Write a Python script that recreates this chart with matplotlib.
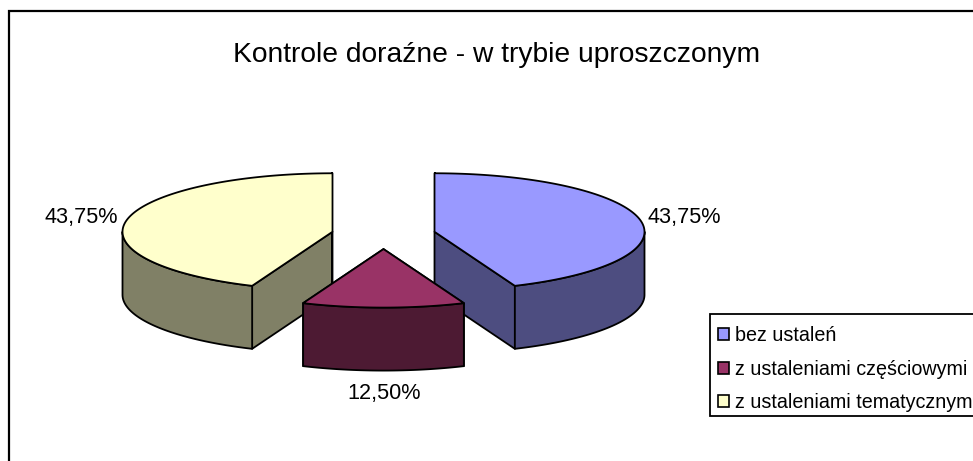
import numpy as np
import matplotlib
matplotlib.use("Agg")
import matplotlib.pyplot as plt
from matplotlib.patches import Polygon, Patch, Rectangle

plt.rcParams['font.family'] = ['Liberation Sans', 'DejaVu Sans']

title = "Kontrole doraźne - w trybie uproszczonym"
categories = ["bez ustaleń", "z ustaleniami częściowymi", "z ustaleniami tematycznym"]
shares = [43.75, 12.50, 43.75]
top_colors = ["#9999FF", "#993366", "#FFFFCC"]
side_colors = ["#4D4D80", "#4D1A33", "#808066"]
draw_order = [2, 0, 1]

# geometry of the projected pie, in figure pixels
CX, CY = 383.5, 234.6
RX, RY = 210.0, 58.5
DEPTH = 63.0
EXPLODE = 52.0
LW = 1.3

fig = plt.figure(figsize=(9.73, 4.61), dpi=100, facecolor="white")
ax = fig.add_axes([0, 0, 1, 1])
ax.set_xlim(0, 973)
ax.set_ylim(461, 0)
ax.axis("off")


def pt(ox, oy, deg, r=1.0):
    t = np.radians(deg)
    return np.column_stack([ox + r * RX * np.sin(t), oy - r * RY * np.cos(t)])


# chart frame (runs off the right and bottom of the picture)
ax.add_patch(Rectangle((9, 11.5), 1000, 500, fc="white", ec="black", lw=1.6, zorder=0))

edges = np.concatenate([[0], np.cumsum(shares)]) / sum(shares) * 360
for z, i in enumerate(draw_order):
    a0, a1 = edges[i], edges[i + 1]
    mid = np.radians((a0 + a1) / 2)
    ox = CX + EXPLODE * np.sin(mid)
    oy = CY - EXPLODE * (RY / RX) * np.cos(mid)
    base = 2 + z * 3
    style = dict(ec="black", lw=LW, joinstyle="round")
    # radial walls
    for a in (a0, a1):
        e = pt(ox, oy, a)[0]
        quad = [(ox, oy), tuple(e), (e[0], e[1] + DEPTH), (ox, oy + DEPTH)]
        ax.add_patch(Polygon(quad, fc=side_colors[i], zorder=base, **style))
    # outer wall: only the part of the rim that faces the viewer
    lo, hi = max(a0, 90), min(a1, 270)
    if hi > lo:
        rim = pt(ox, oy, np.linspace(lo, hi, 80))
        wall = np.vstack([rim, (rim + [0, DEPTH])[::-1]])
        ax.add_patch(Polygon(wall, fc=side_colors[i], zorder=base + 1, **style))
    # top face
    arc = pt(ox, oy, np.linspace(a0, a1, 160))
    ax.add_patch(Polygon(np.vstack([[ox, oy], arc]), fc=top_colors[i], zorder=base + 2, **style))

ax.text(497, 54.5, title, fontsize=20.3, ha="center", va="center", color="black", zorder=30)

label_xy = [(684, 217), (384, 393), (81, 217)]
for v, (lx, ly) in zip(shares, label_xy):
    ax.text(lx, ly, f"{v:.2f}%".replace(".", ","), fontsize=15.6, ha="center", va="center", zorder=30)

# legend box, then the frameless legend rows inside it
ax.add_patch(Rectangle((710, 314), 400, 102, fc="white", ec="black", lw=1.3, zorder=35))
handles = [Patch(fc=c, ec="black", lw=1.2) for c in top_colors]
leg = ax.legend(handles, categories, loc="upper left", bbox_to_anchor=(712 / 973, 1 - 320 / 461),
                bbox_transform=ax.transAxes, fontsize=14.25, frameon=False, borderaxespad=0,
                handlelength=0.56, handleheight=0.56, handletextpad=0.3, labelspacing=0.745,
                borderpad=0.3)
leg.set_zorder(40)

fig.savefig("out.png", dpi=100)
